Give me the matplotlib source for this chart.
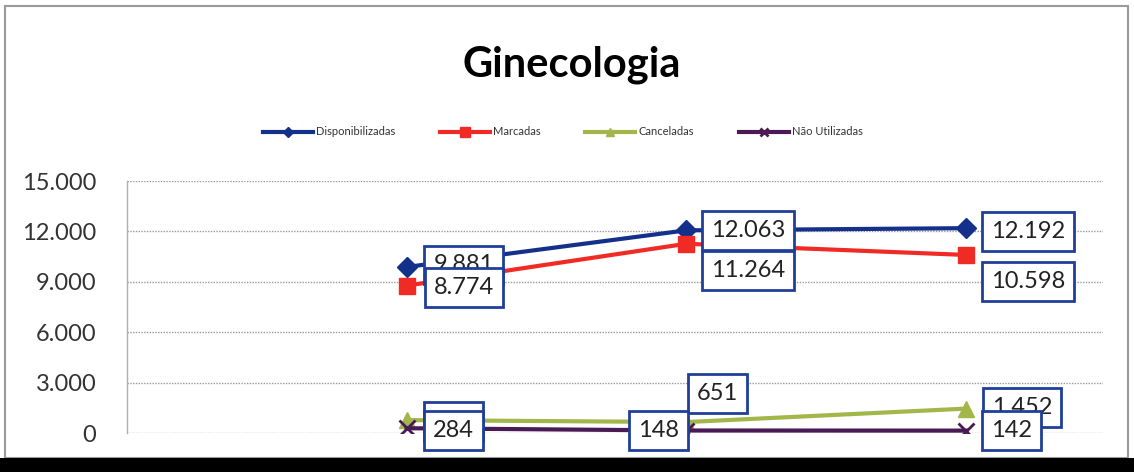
import matplotlib
matplotlib.use("Agg")
import matplotlib.pyplot as plt
from matplotlib.patches import Rectangle

plt.rcParams['font.family'] = ['Lato', 'DejaVu Sans']

categories = ["", "P1", "P2", "P3"]
x_idx = [1, 2, 3]
disponibilizadas = [9881, 12063, 12192]
marcadas = [8774, 11264, 10598]
canceladas = [768, 651, 1452]
nao_utilizadas = [284, 148, 142]
series_names = ["Disponibilizadas", "Marcadas", "Canceladas", "Não Utilizadas"]
yticks = [0, 3000, 6000, 9000, 12000, 15000]
ytick_labels = ["0", "3.000", "6.000", "9.000", "12.000", "15.000"]

def fmt(v):
    return f"{v:,}".replace(",", ".")

W, H = 1134, 472
fig = plt.figure(figsize=(W / 100, H / 100), dpi=100)
fig.patch.set_facecolor("white")

# outer frame and bottom band
fig.patches.append(Rectangle((5 / W, 1 - 458 / H), 1123 / W, 452 / H, transform=fig.transFigure,
                             fill=False, edgecolor="#9a9a9a", linewidth=1.5))
fig.patches.append(Rectangle((0, 0), 1, 14 / H, transform=fig.transFigure,
                             facecolor="black", edgecolor="none", zorder=20))

ax = fig.add_axes([127 / W, 1 - 433 / H, (1103 - 127) / W, (433 - 181) / H])
ax.set_xlim(0, 3.49)
ax.set_ylim(0, 15000)
ax.set_yticks(yticks)
ax.set_yticklabels(ytick_labels, fontsize=17, color="#333333")
ax.set_xticks([])
ax.tick_params(axis="y", length=0, pad=22)
for s in ["top", "right", "bottom"]:
    ax.spines[s].set_visible(False)
ax.spines["left"].set_color("#b0b0b0")
ax.spines["left"].set_linewidth(1)
ax.grid(axis="y", linestyle=(0, (1, 1)), color="#999999", linewidth=1)
ax.set_axisbelow(True)

styles = [
    dict(color="#13318a", marker="D", ms=10),
    dict(color="#f02a25", marker="s", ms=12),
    dict(color="#a3b64a", marker="^", ms=11),
    dict(color="#4a1a55", marker="x", ms=11, mew=2),
]
data = [disponibilizadas, marcadas, canceladas, nao_utilizadas]
for vals, st, name in zip(data, styles, series_names):
    ax.plot(x_idx, vals, linewidth=3, label=name, **st)

# label offsets in pixels (dx, dy) per series per point
offsets = [
    [(57, 2), (62, 0), (62, -3)],
    [(57, -2), (62, -27), (62, -27)],
    [(47, -1), (31, 29), (56, 1)],
    [(47, -2), (-28, 0), (46, 0)],
]
box = dict(boxstyle="square,pad=0.38", facecolor="white", edgecolor="#1f3f99", linewidth=2)
z = 5
for vals, offs in zip(data, offsets):
    for xi, v, (dx, dy) in zip(x_idx, vals, offs):
        ax.annotate(fmt(v), (xi, v), xytext=(dx, dy), textcoords="offset pixels",
                    ha="center", va="center", fontsize=17, color="#222222",
                    bbox=box, zorder=z, annotation_clip=False)
        z += 0.01
    z += 1

fig.text(572 / W, 1 - 65 / H, "Ginecologia", ha="center", va="center",
         fontsize=30, fontweight="bold", color="black")

leg = fig.legend(loc="center", bbox_to_anchor=(563 / W, 1 - 132 / H), ncol=4, frameon=False,
                 fontsize=8, handlelength=4.5, columnspacing=4, handletextpad=0.3,
                 markerscale=0.55)
for t in leg.get_texts():
    t.set_color("#333333")

fig.savefig("out.png", dpi=100)
